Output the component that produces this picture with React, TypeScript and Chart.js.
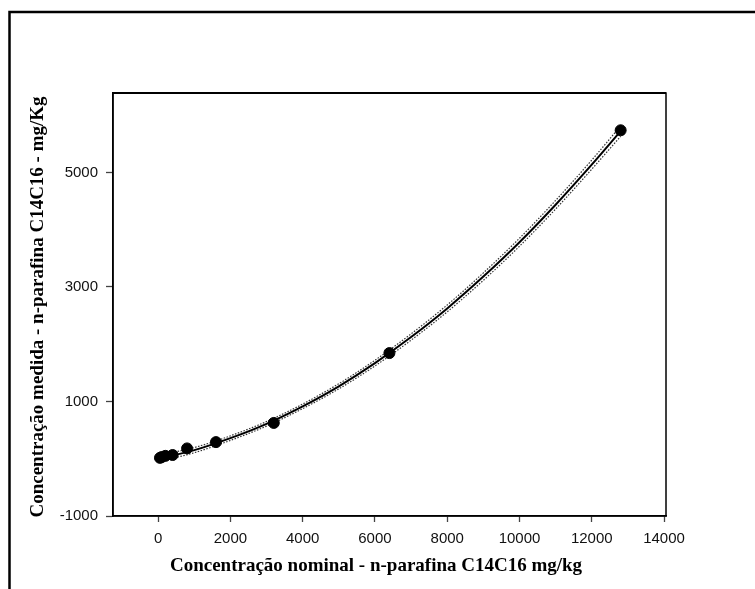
import React, { useEffect, useRef } from "react";
import { Chart, registerables } from "chart.js";

Chart.register(...registerables);

// Measured points
const nominal = [50, 100, 200, 400, 800, 1600, 3200, 6400, 12800];
const measured = [15, 30, 50, 65, 180, 290, 625, 1845, 5735];

// Fitted curve
const curveX = [50, 1000, 2000, 3000, 4000, 5000, 6000, 7000, 8000, 9000, 10000, 11000, 12000, 12800];
const curveY = [10, 150, 360, 610, 915, 1265, 1670, 2125, 2625, 3180, 3780, 4435, 5135, 5720];
const upperY = [65, 195, 400, 650, 955, 1310, 1720, 2180, 2685, 3245, 3850, 4510, 5215, 5810];
const lowerY = [-45, 105, 320, 570, 875, 1220, 1620, 2070, 2565, 3115, 3710, 4360, 5055, 5630];

const xTicks = [0, 2000, 4000, 6000, 8000, 10000, 12000, 14000];
const yTicks = [-1000, 1000, 3000, 5000];

const xTitle = "Concentração nominal - n-parafina C14C16 mg/kg";
const yTitle = "Concentração medida - n-parafina C14C16 - mg/Kg";

const toPts = (xs: number[], ys: number[]) => xs.map((x, i) => ({ x, y: ys[i] }));

export default function App() {
  const ref = useRef<HTMLCanvasElement | null>(null);

  useEffect(() => {
    document.body.style.margin = "0";
    document.body.style.overflow = "hidden";
    const canvas = ref.current;
    if (!canvas) return;

    const framePlugin = {
      id: "framePlugin",
      beforeDraw(chart: any) {
        const ctx = chart.ctx;
        ctx.save();
        ctx.fillStyle = "#ffffff";
        ctx.fillRect(0, 0, chart.width, chart.height);
        ctx.strokeStyle = "#000000";
        ctx.lineWidth = 2.5;
        ctx.strokeRect(9.5, 12, 900, 900);
        ctx.restore();
      },
      afterDraw(chart: any) {
        const ctx = chart.ctx;
        const a = chart.chartArea;
        ctx.save();
        ctx.strokeStyle = "#000000";
        ctx.lineWidth = 1.5;
        ctx.strokeRect(a.left, a.top, a.right - a.left, a.bottom - a.top);
        ctx.lineWidth = 2;
        ctx.beginPath();
        ctx.moveTo(a.left, a.top);
        ctx.lineTo(a.right, a.top);
        ctx.stroke();
        ctx.fillStyle = "#000000";
        ctx.font = "bold 19px 'Liberation Serif', 'Times New Roman', serif";
        ctx.textAlign = "center";
        ctx.textBaseline = "middle";
        ctx.fillText(xTitle, 376, 566);
        ctx.translate(38, 307);
        ctx.rotate(-Math.PI / 2);
        ctx.fillText(yTitle, 0, 0);
        ctx.restore();
      },
    };

    const tickFont = { family: "'Liberation Sans', Arial, sans-serif", size: 15 };

    const chart = new Chart(canvas, {
      type: "scatter",
      data: {
        datasets: [
          {
            label: "measured",
            data: toPts(nominal, measured),
            backgroundColor: "#000000",
            borderColor: "#000000",
            pointRadius: 5.5,
            pointHoverRadius: 5.5,
            showLine: false,
            order: 0,
          },
          {
            label: "fit",
            data: toPts(curveX, curveY),
            showLine: true,
            borderColor: "#000000",
            borderWidth: 2,
            pointRadius: 0,
            cubicInterpolationMode: "monotone",
            order: 1,
          },
          {
            label: "upper",
            data: toPts(curveX, upperY),
            showLine: true,
            borderColor: "#333333",
            borderWidth: 1.2,
            borderDash: [1.5, 1.5],
            pointRadius: 0,
            cubicInterpolationMode: "monotone",
            order: 2,
          },
          {
            label: "lower",
            data: toPts(curveX, lowerY),
            showLine: true,
            borderColor: "#333333",
            borderWidth: 1.2,
            borderDash: [1.5, 1.5],
            pointRadius: 0,
            cubicInterpolationMode: "monotone",
            order: 2,
          },
        ],
      },
      plugins: [framePlugin],
      options: {
        animation: false,
        responsive: false,
        maintainAspectRatio: false,
        layout: { padding: { left: 0, top: 93, right: 89, bottom: 0 } },
        plugins: { legend: { display: false }, tooltip: { enabled: false } },
        scales: {
          x: {
            type: "linear",
            min: -1250,
            max: 14055,
            afterBuildTicks: (s: any) => {
              s.ticks = xTicks.map((v) => ({ value: v }));
            },
            afterFit: (s: any) => {
              s.height = 73;
            },
            grid: {
              display: true,
              drawOnChartArea: false,
              drawTicks: true,
              tickLength: 6,
              tickColor: "#444444",
              tickWidth: 1.3,
            },
            border: { display: true, color: "#000000", width: 1.5 },
            ticks: {
              color: "#111111",
              padding: 8,
              maxRotation: 0,
              font: tickFont,
              callback: (v: any) => String(v),
            },
          },
          y: {
            type: "linear",
            min: -1000,
            max: 6386,
            afterBuildTicks: (s: any) => {
              s.ticks = yTicks.map((v) => ({ value: v }));
            },
            afterFit: (s: any) => {
              s.width = 113;
            },
            grid: {
              display: true,
              drawOnChartArea: false,
              drawTicks: true,
              tickLength: 7,
              tickColor: "#444444",
              tickWidth: 1.3,
            },
            border: { display: true, color: "#000000", width: 1.5 },
            ticks: {
              color: "#111111",
              padding: 8,
              font: tickFont,
              callback: (v: any) => String(v),
            },
          },
        },
      },
    } as any);

    return () => chart.destroy();
  }, []);

  return (
    <canvas
      ref={ref}
      width={755}
      height={589}
      style={{ display: "block", width: "755px", height: "589px" }}
    />
  );
}
